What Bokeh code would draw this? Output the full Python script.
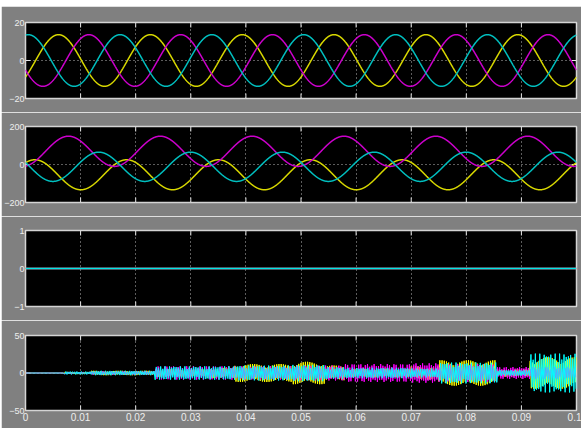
import numpy as np
from bokeh.plotting import figure
from bokeh.layouts import column, row
from bokeh.models import FixedTicker, Range1d, Spacer
from bokeh.embed import file_html
from bokeh.resources import INLINE

# ---------------- data ----------------
x_ticks = [0, 0.01, 0.02, 0.03, 0.04, 0.05, 0.06, 0.07, 0.08, 0.09, 0.1]
x_tick_labels = ["0", "0.01", "0.02", "0.03", "0.04", "0.05", "0.06", "0.07", "0.08", "0.09", "0.1"]
t_end = 0.1
freq_hz = 60.0

series_names = ["yellow", "magenta", "cyan"]

# panel 1: balanced three-phase sinusoids
p1_ylim = [-20, 20]
p1_amp = [13.6, 13.6, 13.6]
p1_offset = [0.0, 0.0, 0.0]
p1_peak_t = [0.0060, 0.0115, 0.0005]

# panel 2: sinusoids with dc offsets
p2_ylim = [-200, 200]
p2_amp = [79.0, 79.5, 77.0]
p2_offset = [-54.0, 69.5, -12.0]
p2_peak_t = [0.0017, 0.0078, 0.0133]

# panel 3: all traces at zero
p3_ylim = [-1, 1]
p3_t = [0.0, 0.1]
p3_yellow = [0.0, 0.0]
p3_magenta = [0.0, 0.0]
p3_cyan = [0.0, 0.0]

# panel 4: high-frequency ripple, envelope per time segment
p4_ylim = [-50, 50]
p4_seg_start = [0.000, 0.007, 0.012, 0.0235, 0.033, 0.038, 0.0484, 0.0544, 0.058, 0.070, 0.075, 0.0856, 0.0916]
p4_seg_end   = [0.007, 0.012, 0.0235, 0.033, 0.038, 0.0484, 0.0544, 0.058, 0.070, 0.075, 0.0856, 0.0916, 0.1]
p4_yellow_env  = [0.0, 1.5, 3.0, 5.0, 7.0, 12.0, 15.0, 10.0, 6.0, 9.0, 17.0, 5.0, 21.0]
p4_magenta_env = [0.0, 1.5, 2.5, 9.0, 9.0, 9.0, 10.0, 10.0, 12.0, 13.0, 12.0, 8.0, 8.0]
p4_cyan_env    = [0.0, 2.0, 3.0, 9.0, 9.0, 10.0, 11.0, 8.0, 7.0, 6.0, 14.0, 4.0, 26.0]

# ---------------- styling ----------------
GRAY = "#808080"
TICK = "#e6e6e6"
LABEL_COLOR = "#eeeeee"
p12_colors = ["#d8d800", "#cc00cc", "#00bfbf"]
p4_colors = ["#ffff00", "#ff00ff", "#00ffff"]
LABEL_FONT = "Liberation Sans"
YLABEL_SIZE = "9px"
XLABEL_SIZE = "10px"
PAD_LEFT = 1
W = 581 - PAD_LEFT
LEFT = 20


def sine_trace(t, amp, off, peak_t):
    return off + amp * np.cos(2 * np.pi * freq_hz * (t - peak_t))


def make_panel(ylim, height, show_x_labels, border_top, border_bottom):
    p = figure(width=W, height=height, output_backend="svg", toolbar_location=None,
               x_range=Range1d(0, t_end), y_range=Range1d(ylim[0], ylim[1]),
               background_fill_color="black", border_fill_color=GRAY,
               min_border_left=LEFT, min_border_right=5, min_border_top=border_top,
               min_border_bottom=border_bottom)
    p.outline_line_color = "#d4d4d4"
    p.outline_line_width = 1.5
    yt = [ylim[0], 0, ylim[1]]

    ya = p.yaxis[0]
    ya.ticker = FixedTicker(ticks=yt)
    ya.major_tick_in = 0
    ya.major_tick_out = 0
    ya.minor_tick_in = 0
    ya.minor_tick_out = 0
    ya.axis_line_color = None
    ya.major_label_text_color = LABEL_COLOR
    ya.major_label_text_font = LABEL_FONT
    ya.major_label_text_font_size = YLABEL_SIZE
    ya.major_label_standoff = 1

    xa = p.xaxis[0]
    if show_x_labels:
        xa.ticker = FixedTicker(ticks=x_ticks)
        xa.major_label_overrides = dict(zip(x_ticks, x_tick_labels))
        xa.major_tick_in = 0
        xa.major_tick_out = 0
        xa.minor_tick_in = 0
        xa.minor_tick_out = 0
        xa.axis_line_color = None
        xa.major_label_text_color = LABEL_COLOR
        xa.major_label_text_font = LABEL_FONT
        xa.major_label_text_font_size = XLABEL_SIZE
        xa.major_label_standoff = 2
    else:
        xa.visible = False

    # inward tick marks on all four sides of the frame
    n = len(x_ticks)
    p.ray(x=x_ticks, y=[ylim[1]] * n, length=5, length_units="screen",
          angle=-np.pi / 2, line_color=TICK, line_width=1)
    p.ray(x=x_ticks, y=[ylim[0]] * n, length=5, length_units="screen",
          angle=np.pi / 2, line_color=TICK, line_width=1)
    p.ray(x=[0], y=[0], length=5, length_units="screen", angle=0,
          line_color=TICK, line_width=1)
    p.ray(x=[t_end], y=[0], length=5, length_units="screen", angle=np.pi,
          line_color=TICK, line_width=1)

    p.xgrid.ticker = FixedTicker(ticks=x_ticks[1:-1])
    p.ygrid.ticker = FixedTicker(ticks=[0])
    for g in (p.xgrid, p.ygrid):
        g.grid_line_color = "#b8b8b8"
        g.grid_line_dash = "1 3"
        g.grid_line_width = 1
    return p


t = np.linspace(0, t_end, 3001)

# panel 1
p1 = make_panel(p1_ylim, 106, False, 16, 14)
for a, o, pk, c in zip(p1_amp, p1_offset, p1_peak_t, p12_colors):
    p1.line(t, sine_trace(t, a, o, pk), line_color=c, line_width=1.5)

# panel 2
p2 = make_panel(p2_ylim, 104, False, 14, 14)
for a, o, pk, c in zip(p2_amp, p2_offset, p2_peak_t, p12_colors):
    p2.line(t, sine_trace(t, a, o, pk), line_color=c, line_width=1.5)

# panel 3
p3 = make_panel(p3_ylim, 104, False, 14, 14)
for vals, c in zip([p3_yellow, p3_magenta, p3_cyan], ["#e0e000", "#e000e0", "#00e6e6"]):
    p3.line(p3_t, vals, line_color=c, line_width=1.5)

# panel 4
p4 = make_panel(p4_ylim, 108, True, 15, 18)
dt = 0.0002
seg_s = np.array(p4_seg_start)
for k, (env, c) in enumerate(zip([p4_yellow_env, p4_magenta_env, p4_cyan_env], p4_colors)):
    tk = np.arange(0, t_end + 1e-12, dt) + k * dt / 3.0
    tk = tk[tk <= t_end]
    idx = np.clip(np.searchsorted(seg_s, tk, side="right") - 1, 0, len(env) - 1)
    e = np.array(env)[idx]
    nn = np.arange(len(tk))
    sign = np.where(nn % 2 == 0, 1.0, -1.0)
    scale = 0.55 + 0.45 * np.abs(np.sin(nn * (1.7 + 0.37 * k) + k))
    p4.line(tk, sign * e * scale, line_color=c, line_width=1.0)

layout = row(Spacer(width=PAD_LEFT, height=428),
             column(Spacer(width=W, height=6), p1, p2, p3, p4, spacing=0),
             spacing=0)
open("out.html", "w").write(file_html(layout, INLINE))
